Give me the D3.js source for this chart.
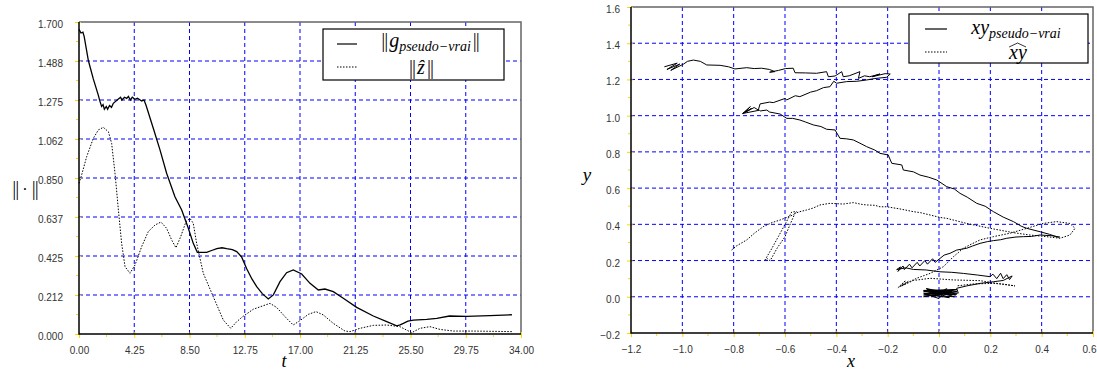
<!DOCTYPE html>
<html>
<head>
<meta charset="utf-8">
<script src="https://cdn.jsdelivr.net/npm/d3@7"></script>
<style>
  body { margin: 0; background: #fff; }
  svg { display: block; }
  .tick text { font-family: "Liberation Sans", Arial, sans-serif; font-size: 10px; fill: #333; }
  .math { font-family: "Liberation Serif", "DejaVu Serif", serif; font-style: italic; fill: #000; }
  .bars { font-style: normal; letter-spacing: -1px; fill-opacity: 0.98; }
</style>
</head>
<body>
<script>
// Left panel: norms against time
const tG = [0, 0.15, 0.3, 0.4, 0.72, 1.1, 1.49, 1.6, 1.74, 1.85, 1.95, 2.1, 2.2, 2.35, 2.5, 2.64,
  3.03, 3.2, 3.3, 3.5, 3.67, 3.8, 3.95, 4.1, 4.3, 4.5, 4.82, 5.0, 5.15, 5.72, 6.23, 6.74, 7.38,
  7.9, 8.41, 8.79, 9.1, 9.82, 10.2, 10.6, 11.0, 11.36, 11.8, 12.13, 12.5, 12.9, 13.3, 13.67,
  14.1, 14.56, 14.95, 15.46, 15.97, 16.48, 17.13, 17.77, 18.41, 18.92, 19.56, 20.33, 21.36,
  22.64, 23.67, 24.44, 24.7, 24.95, 25.3, 25.72, 26.75, 27.52, 28.5, 29.8, 31.6, 33.3];
const gNorm = [1.66, 1.64, 1.645, 1.62, 1.49, 1.39, 1.30, 1.27, 1.24, 1.25, 1.225, 1.24, 1.225,
  1.245, 1.235, 1.257, 1.28, 1.29, 1.275, 1.29, 1.284, 1.295, 1.275, 1.29, 1.279, 1.285, 1.27,
  1.275, 1.248, 1.12, 1.003, 0.876, 0.748, 0.676, 0.576, 0.494, 0.445, 0.445, 0.455, 0.465,
  0.47, 0.465, 0.46, 0.449, 0.421, 0.355, 0.30, 0.258, 0.22, 0.191, 0.213, 0.285, 0.334, 0.349,
  0.327, 0.276, 0.24, 0.245, 0.231, 0.195, 0.145, 0.098, 0.067, 0.044, 0.05, 0.058, 0.07,
  0.076, 0.08, 0.085, 0.098, 0.096, 0.1, 0.105];

const tZ = [0, 0.2, 0.59, 1.1, 1.49, 1.87, 2.26, 2.51, 2.77, 3.03, 3.28, 3.54, 3.92, 4.31, 4.82,
  5.33, 5.85, 6.3, 6.74, 7.13, 7.46, 7.82, 8.23, 8.54, 8.79, 9.05, 9.56, 10.33, 11.1, 11.67,
  12.13, 12.6, 13.41, 14.69, 15.2, 15.97, 16.48, 17.0, 17.64, 18.23, 18.79, 19.56, 20.46, 20.85,
  21.62, 22.64, 23.67, 24.69, 25.59, 26.23, 27.0, 27.77, 28.8, 30.33, 33.3];
const zNorm = [0.821, 0.866, 0.966, 1.066, 1.112, 1.126, 1.102, 1.039, 0.876, 0.676, 0.494, 0.367,
  0.331, 0.376, 0.476, 0.558, 0.594, 0.61, 0.576, 0.512, 0.47, 0.53, 0.612, 0.63, 0.603, 0.494,
  0.331, 0.203, 0.076, 0.031, 0.067, 0.095, 0.135, 0.167, 0.145, 0.085, 0.049, 0.073, 0.107,
  0.122, 0.104, 0.058, 0.016, 0.013, 0.031, 0.047, 0.049, 0.04, 0.007, 0.031, 0.04, 0.025,
  0.016, 0.016, 0.013];

const tTicks = [0, 4.25, 8.5, 12.75, 17, 21.25, 25.5, 29.75, 34];
const tTickLabels = ["0.00", "4.25", "8.50", "12.75", "17.00", "21.25", "25.50", "29.75", "34.00"];
const normTicks = [0, 0.2125, 0.425, 0.6375, 0.85, 1.0625, 1.275, 1.4875, 1.7];
const normTickLabels = ["0.000", "0.212", "0.425", "0.637", "0.850", "1.062", "1.275", "1.488", "1.700"];

// Right panel: trajectories in the plane
const trajX = [-1.07, -1.02, -1.06, -1.01, -1.045, -0.995, -0.98, -0.957, -0.93, -0.905, -0.853,
  -0.82, -0.795, -0.749, -0.72, -0.691, -0.66, -0.64, -0.66, -0.625, -0.598, -0.568, -0.561,
  -0.52, -0.477, -0.438, -0.431, -0.405, -0.379, -0.373, -0.35, -0.308, -0.314, -0.29, -0.27,
  -0.23, -0.26, -0.21, -0.19, -0.204,
  -0.25, -0.282, -0.32, -0.36, -0.399, -0.41, -0.425, -0.45, -0.477, -0.5, -0.542, -0.56,
  -0.593, -0.6, -0.646, -0.66, -0.697, -0.704,
  -0.72, -0.765, -0.73, -0.76, -0.735, -0.765, -0.70,
  -0.697, -0.671, -0.66, -0.619, -0.593, -0.57, -0.542, -0.52, -0.49, -0.46, -0.438, -0.405,
  -0.386, -0.36, -0.334, -0.308, -0.282, -0.25, -0.23, -0.198, -0.184, -0.145, -0.139, -0.1,
  -0.074, -0.04, -0.009, 0.03, 0.06, 0.082, 0.11, 0.147, 0.18, 0.212, 0.25, 0.29, 0.32, 0.342,
  0.394, 0.43, 0.465, 0.47,
  0.44, 0.393, 0.36, 0.329, 0.3, 0.264, 0.24, 0.212, 0.19, 0.16, 0.13, 0.108, 0.069, 0.043,
  0.02, 0.004,
  -0.015, -0.025, -0.045, -0.055, -0.075, -0.085, -0.105, -0.115, -0.135, -0.14, -0.16, -0.15,
  -0.165, -0.13,
  -0.1, -0.05, 0.004, 0.05, 0.095, 0.15, 0.199, 0.21, 0.225, 0.24, 0.25, 0.264, 0.275, 0.285,
  0.25, 0.212, 0.16, 0.108, 0.069,
  0.075, -0.06, 0.07, -0.06, 0.06, -0.05, 0.07, -0.06, 0.0, 0.03, -0.03, 0.05, -0.06, 0.065,
  -0.045, 0.04, -0.055, 0.0, 0.07, -0.06, 0.06, -0.04, 0.05, 0.02];
const trajY = [1.27, 1.29, 1.255, 1.285, 1.25, 1.285, 1.30, 1.307, 1.30, 1.28, 1.278,
  1.27, 1.258, 1.265, 1.26, 1.262, 1.255, 1.243, 1.24, 1.25, 1.26, 1.262, 1.237,
  1.236, 1.234, 1.243, 1.215, 1.219, 1.243, 1.215, 1.22, 1.243, 1.206, 1.22, 1.215,
  1.23, 1.215, 1.232, 1.23, 1.212,
  1.205, 1.197, 1.19, 1.188, 1.179, 1.19, 1.16, 1.155, 1.138, 1.13, 1.105, 1.11,
  1.087, 1.095, 1.072, 1.075, 1.065, 1.031,
  1.045, 1.012, 1.04, 1.015, 1.05, 1.012, 1.03,
  1.026, 1.031, 1.02, 1.009, 0.985, 0.985, 0.976, 0.965, 0.949, 0.94, 0.925, 0.921,
  0.875, 0.872, 0.866, 0.848, 0.829, 0.81, 0.792, 0.783, 0.737, 0.728, 0.7, 0.69,
  0.672, 0.66, 0.645, 0.608, 0.595, 0.571, 0.55, 0.516, 0.5, 0.47, 0.44, 0.415, 0.39, 0.378,
  0.359, 0.345, 0.328, 0.33,
  0.337, 0.341, 0.333, 0.332, 0.33, 0.323, 0.315, 0.31, 0.305, 0.295, 0.28, 0.268, 0.258, 0.24,
  0.23, 0.212,
  0.19, 0.21, 0.18, 0.2, 0.17, 0.19, 0.16, 0.18, 0.15, 0.17, 0.14, 0.165,
  0.15, 0.16,
  0.151, 0.148, 0.138, 0.135, 0.129, 0.12, 0.111, 0.125, 0.1, 0.13, 0.1, 0.122, 0.095, 0.115,
  0.09, 0.083, 0.074, 0.06, 0.047,
  0.02, 0.035, 0.04, 0.01, 0.0, 0.045, 0.015, 0.02, -0.01, 0.045, 0.0, 0.03, 0.03, 0.01,
  0.04, -0.005, 0.015, 0.035, 0.03, 0.0, 0.04, 0.02, 0.01, 0.025];

const estX = [-0.808, -0.79, -0.749, -0.72, -0.685, -0.65, -0.619, -0.59, -0.568, -0.555, -0.574,
  -0.6, -0.626, -0.65, -0.678, -0.668, -0.658, -0.63, -0.6, -0.58, -0.561, -0.542, -0.516,
  -0.49, -0.464, -0.425, -0.373, -0.334, -0.3, -0.282, -0.25, -0.23, -0.204, -0.152, -0.1,
  -0.074, -0.03, 0.004, 0.03, 0.108, 0.199, 0.29, 0.354, 0.419, 0.471, 0.51, 0.53, 0.51, 0.458,
  0.406, 0.342, 0.277, 0.212, 0.16, 0.125, 0.095, 0.056, 0.017, -0.035, -0.087, -0.12,
  -0.152, -0.13, -0.16, -0.12, -0.145, -0.1,
  -0.035, 0.056, 0.16, 0.238, 0.296, 0.25, 0.212, 0.134, 0.069];
const estY = [0.258, 0.28, 0.314, 0.35, 0.387, 0.41, 0.424, 0.44, 0.452, 0.47, 0.468,
  0.4, 0.332, 0.27, 0.203, 0.21, 0.199, 0.27, 0.332, 0.4, 0.461, 0.47, 0.479,
  0.49, 0.507, 0.516, 0.512, 0.52, 0.51, 0.507, 0.505, 0.497, 0.497, 0.485, 0.47,
  0.465, 0.45, 0.438, 0.433, 0.405, 0.378, 0.354, 0.341, 0.332, 0.323, 0.341, 0.378, 0.405, 0.415,
  0.405, 0.378, 0.351, 0.332, 0.314, 0.29, 0.268, 0.221, 0.166, 0.129, 0.102, 0.08,
  0.056, 0.09, 0.05, 0.085, 0.06, 0.09,
  0.102, 0.093, 0.089, 0.071, 0.06, 0.07, 0.074, 0.071, 0.06];

const xTicks = [-1.2, -1.0, -0.8, -0.6, -0.4, -0.2, 0.0, 0.2, 0.4, 0.6];
const xTickLabels = ["\u22121.2", "\u22121.0", "\u22120.8", "\u22120.6", "\u22120.4", "\u22120.2", "0.0", "0.2", "0.4", "0.6"];
const yTicks = [-0.2, 0.0, 0.2, 0.4, 0.6, 0.8, 1.0, 1.2, 1.4, 1.6];
const yTickLabels = ["\u22120.2", "0.0", "0.2", "0.4", "0.6", "0.8", "1.0", "1.2", "1.4", "1.6"];

const width = 1097, height = 372;
const tickColor = "#ffd700";
const gridColor = "#0000ff";

const svg = d3.select("body").append("svg")
    .attr("width", width)
    .attr("height", height)
    .attr("viewBox", [0, 0, width, height]);

svg.append("rect").attr("width", width).attr("height", height).attr("fill", "#fff");

// midpoints between major ticks, used for the minor ticks
const mids = arr => d3.pairs(arr, (a, b) => (a + b) / 2);

function drawPanel(p) {
    const x = d3.scaleLinear().domain(p.xDomain).range([p.left, p.right]);
    const y = d3.scaleLinear().domain(p.yDomain).range([p.bottom, p.top]);
    const g = svg.append("g");

    // dashed grid on the inner ticks
    g.append("g").selectAll("line").data(p.xTicks.slice(1, -1)).join("line")
        .attr("x1", d => x(d)).attr("x2", d => x(d))
        .attr("y1", p.top).attr("y2", p.bottom)
        .attr("stroke", gridColor).attr("stroke-dasharray", "4,3");
    g.append("g").selectAll("line").data(p.yTicks.slice(1, -1)).join("line")
        .attr("y1", d => y(d)).attr("y2", d => y(d))
        .attr("x1", p.left).attr("x2", p.right)
        .attr("stroke", gridColor).attr("stroke-dasharray", "4,3");

    // top and right of the frame are grey
    g.append("path")
        .attr("d", `M${p.left},${p.top}H${p.right}V${p.bottom}`)
        .attr("fill", "none").attr("stroke", "#666").attr("stroke-width", 1.5);

    // minor ticks
    g.append("g").selectAll("line").data(mids(p.xTicks)).join("line")
        .attr("x1", d => x(d)).attr("x2", d => x(d))
        .attr("y1", p.bottom + 1).attr("y2", p.bottom + 3)
        .attr("stroke", tickColor);
    g.append("g").selectAll("line").data(mids(p.yTicks)).join("line")
        .attr("y1", d => y(d)).attr("y2", d => y(d))
        .attr("x1", p.left - 1).attr("x2", p.left - 3)
        .attr("stroke", tickColor);

    // major ticks with labels
    const xa = g.append("g")
        .attr("transform", `translate(0,${p.bottom})`)
        .call(d3.axisBottom(x).tickValues(p.xTicks)
            .tickFormat((d, i) => p.xTickLabels[i]).tickSize(4).tickPadding(9))
        .call(a => a.select(".domain").remove())
        .call(a => a.selectAll(".tick line").attr("stroke", tickColor).attr("y1", -2));
    if (p.lastLabelShift) {
        xa.selectAll(".tick text").filter((d, i) => i === p.xTicks.length - 1)
            .attr("dx", -p.lastLabelShift);
    }
    g.append("g")
        .attr("transform", `translate(${p.left},0)`)
        .call(d3.axisLeft(y).tickValues(p.yTicks)
            .tickFormat((d, i) => p.yTickLabels[i]).tickSize(4).tickPadding(p.yPad))
        .call(a => a.select(".domain").remove())
        .call(a => a.selectAll(".tick line").attr("stroke", tickColor).attr("x1", 2))
        .call(a => a.selectAll(".tick text").attr("dy", "0.55em"));

    // left and bottom of the frame are black
    g.append("path")
        .attr("d", `M${p.left},${p.top}V${p.bottom}H${p.right}`)
        .attr("fill", "none").attr("stroke", "#000").attr("stroke-width", 1.5);

    return { g, x, y };
}

// ---- left panel ----
const left = drawPanel({
    left: 79, right: 521, top: 22, bottom: 334,
    xDomain: [0, 34], yDomain: [0, 1.7],
    xTicks: tTicks, xTickLabels: tTickLabels,
    yTicks: normTicks, yTickLabels: normTickLabels, yPad: 12
});

const leftLine = d3.line().x(d => left.x(d[0])).y(d => left.y(d[1]));
left.g.append("path")
    .attr("d", leftLine(d3.zip(tG, gNorm)))
    .attr("fill", "none").attr("stroke", "#000").attr("stroke-width", 1.3);
left.g.append("path")
    .attr("d", leftLine(d3.zip(tZ, zNorm)))
    .attr("fill", "none").attr("stroke", "#000").attr("stroke-width", 1)
    .attr("stroke-dasharray", "1.5,1.5");

// slight opacity keeps the thin bars in grey antialiasing
const normLabel = svg.append("text").attr("class", "math").attr("x", 25).attr("y", 195)
    .attr("text-anchor", "middle").attr("font-size", 20).attr("opacity", 0.99);
normLabel.append("tspan").attr("class", "bars").text("||");
normLabel.append("tspan").style("font-style", "normal").attr("font-size", 16).text(" \u00b7 ");
normLabel.append("tspan").attr("class", "bars").text("||");
svg.append("text").attr("class", "math").attr("x", 284).attr("y", 367)
    .attr("text-anchor", "middle").attr("font-size", 18).text("t");

// legend of the left panel
const legL = svg.append("g");
legL.append("rect").attr("x", 323).attr("y", 29).attr("width", 181).attr("height", 51)
    .attr("fill", "#fff").attr("stroke", "#000").attr("stroke-width", 1.2);
legL.append("line").attr("x1", 337).attr("x2", 357).attr("y1", 44).attr("y2", 44)
    .attr("stroke", "#000").attr("stroke-width", 1.2);
legL.append("line").attr("x1", 337).attr("x2", 357).attr("y1", 67).attr("y2", 67)
    .attr("stroke", "#000").attr("stroke-dasharray", "1.5,1.5");
const lg1 = legL.append("text").attr("class", "math").attr("x", 430).attr("y", 47)
    .attr("text-anchor", "middle").attr("font-size", 20).attr("opacity", 0.99);
lg1.append("tspan").attr("class", "bars").text("||");
lg1.append("tspan").attr("dx", 2).text("g");
lg1.append("tspan").attr("font-size", 14).attr("dy", 4).text("pseudo\u2212vrai");
lg1.append("tspan").attr("class", "bars").attr("dy", -4).attr("dx", 2).text("||");
const lg2 = legL.append("text").attr("class", "math").attr("x", 421).attr("y", 74)
    .attr("text-anchor", "middle").attr("font-size", 20).attr("opacity", 0.99);
lg2.append("tspan").attr("class", "bars").text("||");
lg2.append("tspan").attr("dx", 2).text("\u1e91");
lg2.append("tspan").attr("class", "bars").attr("dx", 2).text("||");

// ---- right panel ----
const right = drawPanel({
    left: 631, right: 1093, top: 7, bottom: 333,
    xDomain: [-1.2, 0.6], yDomain: [-0.2, 1.6],
    xTicks: xTicks, xTickLabels: xTickLabels,
    yTicks: yTicks, yTickLabels: yTickLabels, yPad: 7,
    lastLabelShift: 4
});

const rightLine = d3.line().x(d => right.x(d[0])).y(d => right.y(d[1]));
right.g.append("path")
    .attr("d", rightLine(d3.zip(trajX, trajY)))
    .attr("fill", "none").attr("stroke", "#000").attr("stroke-width", 1);
right.g.append("path")
    .attr("d", rightLine(d3.zip(estX, estY)))
    .attr("fill", "none").attr("stroke", "#000").attr("stroke-width", 1)
    .attr("stroke-dasharray", "1.5,1.5");

svg.append("text").attr("class", "math").attr("x", 587).attr("y", 181)
    .attr("text-anchor", "middle").attr("font-size", 19).text("y");
svg.append("text").attr("class", "math").attr("x", 851).attr("y", 367)
    .attr("text-anchor", "middle").attr("font-size", 18).text("x");

// legend of the right panel
const legR = svg.append("g");
legR.append("rect").attr("x", 909).attr("y", 14).attr("width", 179).attr("height", 49)
    .attr("fill", "#fff").attr("stroke", "#000").attr("stroke-width", 1.2);
legR.append("line").attr("x1", 925).attr("x2", 947).attr("y1", 29).attr("y2", 29)
    .attr("stroke", "#000").attr("stroke-width", 1.2);
legR.append("line").attr("x1", 925).attr("x2", 947).attr("y1", 52).attr("y2", 52)
    .attr("stroke", "#000").attr("stroke-dasharray", "1.5,1.5");
const lr1 = legR.append("text").attr("class", "math").attr("x", 1016).attr("y", 34)
    .attr("text-anchor", "middle").attr("font-size", 20);
lr1.append("tspan").text("xy");
lr1.append("tspan").attr("font-size", 14).attr("dy", 4).text("pseudo\u2212vrai");
const lr2 = legR.append("text").attr("class", "math").attr("x", 1018).attr("y", 59)
    .attr("text-anchor", "middle").attr("font-size", 20).text("xy");
// wide hat over the estimate symbol
const hb = lr2.node().getBBox();
legR.append("path")
    .attr("d", `M${hb.x + 1},${hb.y + 6}L${hb.x + hb.width / 2},${hb.y + 2}L${hb.x + hb.width - 1},${hb.y + 6}`)
    .attr("fill", "none").attr("stroke", "#000").attr("stroke-width", 0.8);
</script>
</body>
</html>
